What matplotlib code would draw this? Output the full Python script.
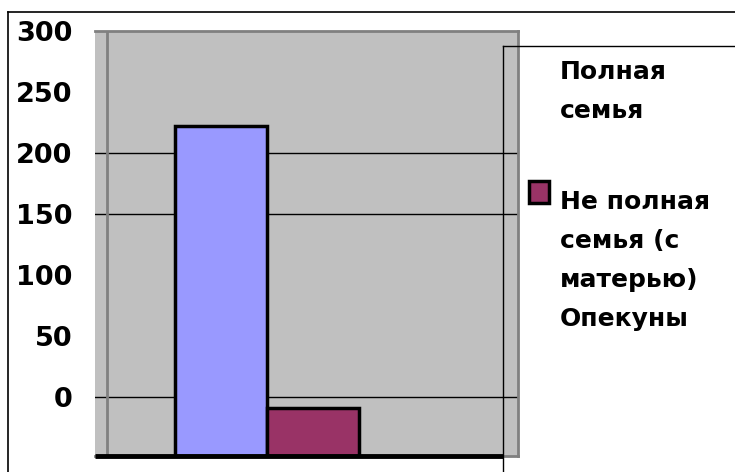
import matplotlib.pyplot as plt
from matplotlib.lines import Line2D
from matplotlib.patches import Rectangle

# data
series = ["Полная\nсемья", "Не полная\nсемья (с\nматерью)\nОпекуны"]
values = [270, 39]
colors = ["#9999FF", "#993366"]
yticks = [0, 50, 100, 150, 200, 250, 300]
grid_at = [0, 150, 200]

W, H = 735, 472
plt.rcParams['font.family'] = ['DejaVu Sans']
plt.rcParams['font.weight'] = 'bold'
fig = plt.figure(figsize=(W / 100, H / 100), dpi=100)

def px(x0, y0, x1, y1):
    return [x0 / W, 1 - y1 / H, (x1 - x0) / W, (y1 - y0) / H]

ax = fig.add_axes(px(95, 31, 518, 456))
ax.set_facecolor("#C0C0C0")
ymin, ymax = -48, 300
ax.set_ylim(ymin, ymax)
ax.set_xlim(-1.87, 2.73)

for g in grid_at:
    ax.axhline(g, color="black", lw=1, zorder=1)

xs = [-0.5, 0.5]
bars = []
for x, v, c in zip(xs, values, colors):
    b = ax.bar(x, v, width=1, bottom=ymin, color=c, edgecolor="black",
               linewidth=2.5, zorder=2)
    bars.append(b)

ax.set_xticks([])
ax.set_yticks(yticks)
ax.set_yticklabels([str(t) for t in yticks], fontsize=19.5, fontweight="bold")
ax.tick_params(axis="y", length=0, pad=16.5)
for lab in ax.get_yticklabels():
    lab.set_verticalalignment("center_baseline")

for s in ["top", "right", "bottom"]:
    ax.spines[s].set_color("#808080")
    ax.spines[s].set_linewidth(2)
ax.spines["left"].set_visible(False)

# gray vertical line near the left edge, black base line
ax.plot([12 / 423, 12 / 423], [0, 1], transform=ax.transAxes, color="#808080", lw=2, zorder=1.5)
ax.plot([0, 408 / 423], [0, 0], transform=ax.transAxes, color="black", lw=3.5,
        clip_on=False, zorder=3, solid_capstyle="butt")

# outer frame and legend frame pieces
def fline(xs_, ys_, **kw):
    fig.add_artist(Line2D([x / W for x in xs_], [1 - y / H for y in ys_],
                          transform=fig.transFigure, color="black", **kw))

fline([8, W], [12, 12], lw=1.2)
fline([8, 8], [12, H], lw=1.2)
fline([503, 503], [46, H], lw=1)
fline([503, W], [46, 46], lw=1)

# legend: first entry has no visible key, second has a square
first_baseline = [79, 209]
for i, (name, c) in enumerate(zip(series, colors)):
    y0 = first_baseline[i]
    for j, line in enumerate(name.split("\n")):
        fig.text(560 / W, 1 - (y0 + 39 * j) / H, line, fontsize=18,
                 fontweight="bold", va="baseline", ha="left")
    if i == 1:
        fig.add_artist(Rectangle((529 / W, 1 - 203 / H), 20 / W, 22 / H,
                                 transform=fig.transFigure, facecolor=c,
                                 edgecolor="black", lw=2.5))

fig.savefig("out.png", dpi=100)
